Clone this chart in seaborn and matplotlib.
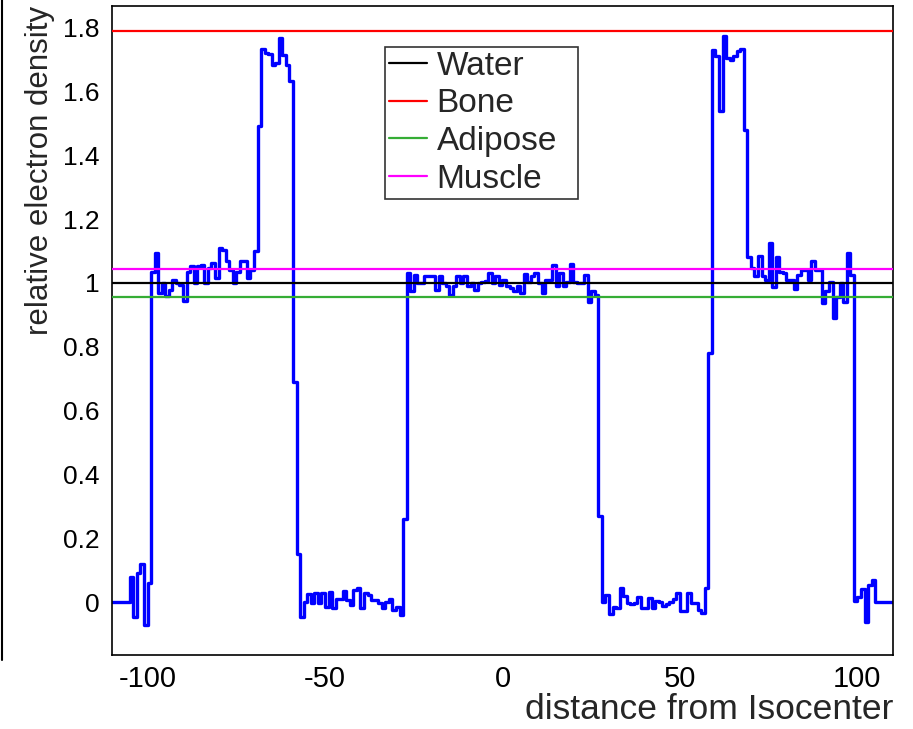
import numpy as np
import pandas as pd
import matplotlib
matplotlib.use('Agg')
import matplotlib.pyplot as plt
from matplotlib.lines import Line2D
from matplotlib.ticker import MultipleLocator, FormatStrFormatter
import seaborn as sns

sns.set_style('white')
plt.rcParams['font.family'] = ['Liberation Sans', 'DejaVu Sans']

# histogram: 220 bins, width 1, from -110 to 110
bin_lo, bin_hi = -110, 110

outside_left = [0.0, 0.0, 0.0, 0.0, 0.0]
edge_left = [0.077, -0.047, 0.091, 0.12, -0.072, 0.06]
tissue_left = [1.035, 1.095, 0.968, 0.999, 0.959, 0.978, 1.009, 1.001, 0.994, 0.942,
               1.035, 1.053, 0.999, 1.053, 1.056, 0.999, 1.046, 1.061, 1.014, 1.109,
               1.104, 1.067, 1.040, 0.999, 1.035, 1.067, 1.067, 1.014, 1.040, 1.100]
bone_left = [1.49, 1.733, 1.720, 1.717, 1.683, 1.690, 1.767, 1.715, 1.683, 1.631,
             0.69, 0.15, -0.046]
lung_left = [0.001, 0.024, -0.004, 0.027, -0.004, 0.029, -0.015, 0.032, -0.020, 0.011,
             0.011, 0.034, 0.006, -0.009, 0.038, 0.045, -0.020, 0.027, 0.022, 0.006,
             0.006, -0.004, -0.020, 0.001, 0.011, -0.025, -0.015, -0.041]
center = [0.26,
          1.030, 0.973, 1.025, 1.000, 1.000, 1.022, 1.020, 1.020, 0.978, 1.022,
          1.000, 0.990, 0.962, 0.990, 1.022, 1.000, 1.022, 0.990, 1.000, 0.978,
          1.000, 1.004, 1.007, 1.030, 1.000, 1.020, 0.994, 1.009, 0.989, 0.983,
          0.973, 0.989, 0.968, 1.028, 1.004, 1.020, 1.032, 1.000, 0.968, 1.009,
          1.009, 1.056, 0.990, 1.030, 0.990, 1.004, 1.059, 1.004, 1.000, 1.000,
          1.025, 0.941, 0.976, 0.962,
          0.27, 0.0]
lung_right = [0.022, -0.036, -0.015, -0.020, 0.043, 0.019, -0.002, -0.006, -0.002, 0.017,
              -0.020, -0.018, 0.014, -0.020, 0.003, 0.001, -0.013, -0.006, 0.001, 0.008,
              0.029, -0.028, -0.028, 0.029, -0.002, -0.004, -0.025, -0.033, 0.043]
bone_right = [0.78, 1.730, 1.712, 1.537, 1.772, 1.704, 1.697, 1.712, 1.725, 1.733, 1.48]
tissue_right = [1.082, 1.046, 1.020, 1.084, 1.020, 1.010, 1.124, 0.988, 1.082, 1.035,
                1.030, 1.010, 1.010, 0.980, 1.025, 1.039, 1.039, 1.010, 1.067, 1.040,
                1.040, 0.936, 0.973, 1.004, 0.889, 0.957, 0.999, 0.941, 1.093, 1.025]
edge_right = [0.003, 0.017, 0.040, -0.062, 0.053, 0.069]
outside_right = [0.0, 0.0, 0.0, 0.0, 0.0]

density = (outside_left + edge_left + tissue_left + bone_left + lung_left + center
           + lung_right + bone_right + tissue_right + edge_right + outside_right)
edges = np.arange(bin_lo, bin_hi + 1)

materials = ['Water', 'Bone', 'Adipose', 'Muscle']
levels = [1.0, 1.79, 0.955, 1.045]
colors = ['black', '#ff0000', '#35ad35', '#ff00ff']

hist_df = pd.DataFrame({'x': edges, 'y': density + [density[-1]]})
lines_df = pd.DataFrame({
    'x': [bin_lo, bin_hi] * len(materials),
    'level': [v for v in levels for _ in range(2)],
    'material': [m for m in materials for _ in range(2)],
})

fig = plt.figure(figsize=(9.13, 7.29), dpi=100)
ax = fig.add_axes([0.1227, 0.1015, 0.8553, 0.8905])

sns.lineplot(data=hist_df, x='x', y='y', drawstyle='steps-post', estimator=None,
             color='#0000ff', lw=2.4, ax=ax, zorder=2)
sns.lineplot(data=lines_df, x='x', y='level', hue='material', hue_order=materials,
             palette=dict(zip(materials, colors)), estimator=None, lw=1.6, ax=ax,
             zorder=3, legend=False)

ax.set_xlim(bin_lo, bin_hi)
ax.set_ylim(-0.166, 1.868)

ax.xaxis.set_major_locator(MultipleLocator(50))
ax.xaxis.set_minor_locator(MultipleLocator(10))
ax.yaxis.set_major_locator(MultipleLocator(0.2))
ax.yaxis.set_minor_locator(MultipleLocator(0.05))
ax.yaxis.set_major_formatter(FormatStrFormatter('%g'))
ax.xaxis.set_major_formatter(FormatStrFormatter('%g'))

ax.tick_params(axis='both', which='both', direction='in', width=1.2, colors='black')
ax.tick_params(axis='y', which='major', length=16, pad=9, labelsize=19)
ax.tick_params(axis='y', which='minor', length=8.5)
ax.tick_params(axis='x', which='major', length=13, pad=7, labelsize=21)
ax.tick_params(axis='x', which='minor', length=6.5)

for s in ax.spines.values():
    s.set_color('black')
    s.set_linewidth(1.2)

ax.set_xlabel('distance from Isocenter', fontsize=25.5, loc='right', labelpad=0)
ax.set_ylabel('relative electron density', fontsize=22.5, loc='top', labelpad=6)

handles = [Line2D([0], [0], color=c, lw=1.6) for c in colors]
leg = ax.legend(handles, materials, loc='upper left',
                bbox_to_anchor=(0.3495, 0.698, 0.2472, 0.239), mode='expand',
                borderaxespad=0, fontsize=24, frameon=True, fancybox=False,
                handlelength=1.15, handletextpad=0.28, labelspacing=0.2,
                borderpad=0.12)
leg.get_frame().set_edgecolor('black')
leg.get_frame().set_linewidth(1.2)

fig.add_artist(Line2D([0.002, 0.002], [0.095, 1.0], color='black', lw=1.5,
                      transform=fig.transFigure))

fig.savefig('out.png', dpi=100)
